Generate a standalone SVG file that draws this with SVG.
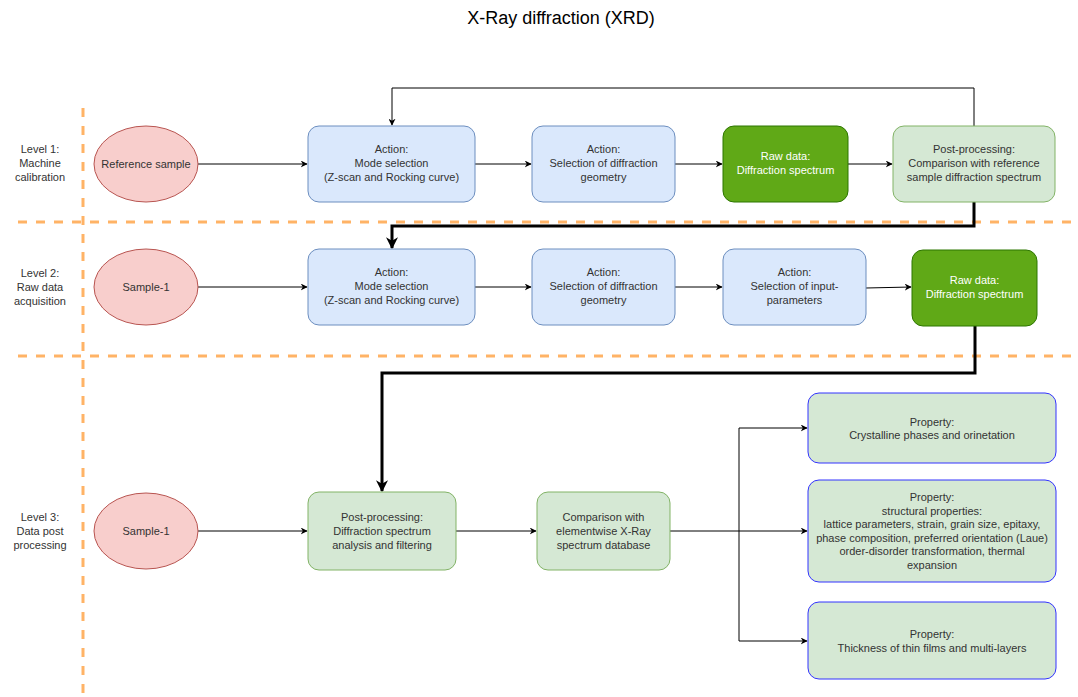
<svg xmlns="http://www.w3.org/2000/svg" width="1078" height="697" viewBox="0 0 1078 697">
  <defs>
    <marker id="arr" viewBox="0 0 10 10" refX="9" refY="5" markerWidth="7" markerHeight="7" markerUnits="userSpaceOnUse" orient="auto">
      <path d="M0,0 L10,5 L0,10 L3,5 Z" fill="#000"/>
    </marker>
    <marker id="arrBig" viewBox="0 0 10 10" refX="9" refY="5" markerWidth="12" markerHeight="12" markerUnits="userSpaceOnUse" orient="auto">
      <path d="M0,0 L10,5 L0,10 L3,5 Z" fill="#000"/>
    </marker>
    <style>
      text { font-family: "Liberation Sans", Arial, sans-serif; font-size: 11px; fill: #333333; text-anchor: middle; }
      .title { font-size: 18px; fill: #000; }
      .white { fill: #ffffff; }
      .ell { fill: #f8cecc; stroke: #b85450; stroke-width: 1; }
      .blue { fill: #dae8fc; stroke: #6c8ebf; stroke-width: 1; }
      .lgreen { fill: #d5e8d4; stroke: #82b366; stroke-width: 1; }
      .dgreen { fill: #60a917; stroke: #2d7600; stroke-width: 1; }
      .prop { fill: #d5e8d4; stroke: #3333ff; stroke-width: 1; }
      .sep { stroke: #ffb366; stroke-width: 3; stroke-dasharray: 9 9; fill: none; }
      .thin { stroke: #000; stroke-width: 1; fill: none; marker-end: url(#arr); }
      .thick { stroke: #000; stroke-width: 3; fill: none; marker-end: url(#arrBig); }
    </style>
  </defs>

  <rect width="1078" height="697" fill="#ffffff"/>

  <text class="title" x="561" y="24">X-Ray diffraction (XRD)</text>

  <!-- lane separators -->
  <g id="separators">
    <line class="sep" x1="83" y1="108" x2="83" y2="697"/>
    <line class="sep" x1="18" y1="222" x2="1078" y2="222"/>
    <line class="sep" x1="18" y1="356" x2="1078" y2="356"/>
  </g>

  <!-- lane labels -->
  <g id="lane-labels">
    <text x="40" y="153">Level 1:</text>
    <text x="40" y="167">Machine</text>
    <text x="40" y="181">calibration</text>
    <text x="40" y="277">Level 2:</text>
    <text x="40" y="291">Raw data</text>
    <text x="40" y="305">acquisition</text>
    <text x="40" y="521">Level 3:</text>
    <text x="40" y="535">Data post</text>
    <text x="40" y="549">processing</text>
  </g>

  <!-- connectors -->
  <g id="connectors">
    <line class="thin" x1="198" y1="164" x2="307" y2="164"/>
    <line class="thin" x1="475" y1="164" x2="531" y2="164"/>
    <line class="thin" x1="675" y1="164" x2="722" y2="164"/>
    <line class="thin" x1="848" y1="164" x2="892" y2="164"/>
    <polyline class="thin" points="974,126 974,88 392,88 392,125"/>
    <polyline class="thick" points="974,202 974,226 392,226 392,248"/>

    <line class="thin" x1="198" y1="287" x2="307" y2="287"/>
    <line class="thin" x1="475" y1="287" x2="531" y2="287"/>
    <line class="thin" x1="675" y1="287" x2="722" y2="287"/>
    <line class="thin" x1="866" y1="288" x2="911" y2="287"/>
    <polyline class="thick" points="975,325 975,373 382,373 382,491"/>

    <line class="thin" x1="198" y1="531" x2="307" y2="531"/>
    <line class="thin" x1="456" y1="531" x2="536" y2="531"/>
    <polyline class="thin" points="670,531 739,531 739,428 807,428"/>
    <line class="thin" x1="739" y1="531" x2="807" y2="531"/>
    <polyline class="thin" points="739,531 739,641 807,641"/>
  </g>

  <!-- Level 1 -->
  <g id="ref-sample">
    <ellipse class="ell" cx="146" cy="164" rx="52" ry="38"/>
    <text x="146" y="168">Reference sample</text>
  </g>
  <g id="l1-mode">
    <rect class="blue" x="308" y="126" width="167" height="76" rx="11"/>
    <text x="391.5" y="153">Action:</text>
    <text x="391.5" y="167">Mode selection</text>
    <text x="391.5" y="181">(Z-scan and Rocking curve)</text>
  </g>
  <g id="l1-geometry">
    <rect class="blue" x="532" y="126" width="143" height="76" rx="11"/>
    <text x="603.5" y="153">Action:</text>
    <text x="603.5" y="167">Selection of diffraction</text>
    <text x="603.5" y="181">geometry</text>
  </g>
  <g id="l1-raw">
    <rect class="dgreen" x="723" y="126" width="125" height="76" rx="11"/>
    <text class="white" x="785.5" y="160">Raw data:</text>
    <text class="white" x="785.5" y="174">Diffraction spectrum</text>
  </g>
  <g id="l1-post">
    <rect class="lgreen" x="893" y="126" width="162" height="76" rx="11"/>
    <text x="974" y="153">Post-processing:</text>
    <text x="974" y="167">Comparison with reference</text>
    <text x="974" y="181">sample diffraction spectrum</text>
  </g>

  <!-- Level 2 -->
  <g id="sample-l2">
    <ellipse class="ell" cx="146" cy="287" rx="52" ry="38"/>
    <text x="146" y="291">Sample-1</text>
  </g>
  <g id="l2-mode">
    <rect class="blue" x="308" y="249" width="167" height="76" rx="11"/>
    <text x="391.5" y="276">Action:</text>
    <text x="391.5" y="290">Mode selection</text>
    <text x="391.5" y="304">(Z-scan and Rocking curve)</text>
  </g>
  <g id="l2-geometry">
    <rect class="blue" x="532" y="249" width="143" height="76" rx="11"/>
    <text x="603.5" y="276">Action:</text>
    <text x="603.5" y="290">Selection of diffraction</text>
    <text x="603.5" y="304">geometry</text>
  </g>
  <g id="l2-input">
    <rect class="blue" x="723" y="249" width="143" height="76" rx="11"/>
    <text x="794.5" y="276">Action:</text>
    <text x="794.5" y="290">Selection of input-</text>
    <text x="794.5" y="304">parameters</text>
  </g>
  <g id="l2-raw">
    <rect class="dgreen" x="912" y="250" width="125" height="76" rx="11"/>
    <text class="white" x="974.5" y="284">Raw data:</text>
    <text class="white" x="974.5" y="298">Diffraction spectrum</text>
  </g>

  <!-- Level 3 -->
  <g id="sample-l3">
    <ellipse class="ell" cx="146" cy="531" rx="52" ry="38"/>
    <text x="146" y="535">Sample-1</text>
  </g>
  <g id="l3-post">
    <rect class="lgreen" x="308" y="492" width="148" height="78" rx="11"/>
    <text x="382" y="521">Post-processing:</text>
    <text x="382" y="535">Diffraction spectrum</text>
    <text x="382" y="549">analysis and filtering</text>
  </g>
  <g id="l3-compare">
    <rect class="lgreen" x="537" y="492" width="133" height="78" rx="11"/>
    <text x="603.5" y="521">Comparison with</text>
    <text x="603.5" y="535">elementwise X-Ray</text>
    <text x="603.5" y="549">spectrum database</text>
  </g>
  <g id="prop-crystal">
    <rect class="prop" x="808" y="393" width="248" height="70" rx="11"/>
    <text x="932" y="426">Property:</text>
    <text x="932" y="439">Crystalline phases and orinetation</text>
  </g>
  <g id="prop-structural">
    <rect class="prop" x="808" y="480" width="248" height="102" rx="11"/>
    <text x="932" y="501">Property:</text>
    <text x="932" y="514.5">structural properties:</text>
    <text x="932" y="528">lattice parameters, strain, grain size, epitaxy,</text>
    <text x="932" y="541.5">phase composition, preferred orientation (Laue)</text>
    <text x="932" y="555">order-disorder transformation, thermal</text>
    <text x="932" y="568.5">expansion</text>
  </g>
  <g id="prop-thickness">
    <rect class="prop" x="808" y="602" width="248" height="77" rx="11"/>
    <text x="932" y="638">Property:</text>
    <text x="932" y="652">Thickness of thin films and multi-layers</text>
  </g>
</svg>
